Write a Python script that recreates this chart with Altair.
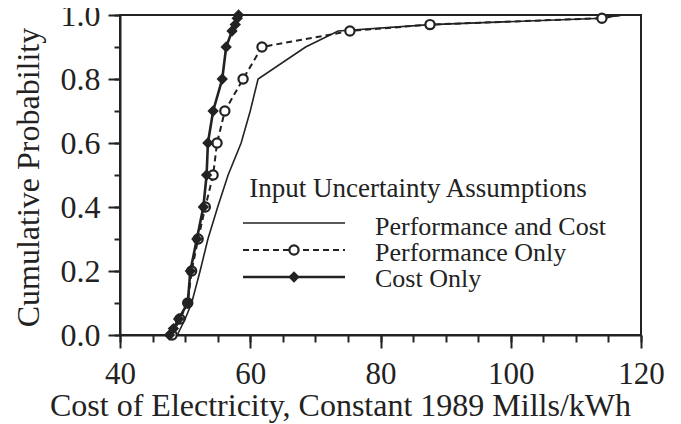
import altair as alt
import pandas as pd

# ---- data ----
prob_pc = [0.0, 0.05, 0.1, 0.2, 0.3, 0.4, 0.5, 0.6, 0.7, 0.8, 0.9, 0.95, 0.97, 0.99, 1.0]
cost_pc = [48.8, 50.0, 51.0, 52.3, 53.5, 55.0, 56.6, 58.6, 60.0, 61.2, 68.5, 73.5, 87.6, 114.0, 117.0]

prob_po = [0.0, 0.05, 0.1, 0.2, 0.3, 0.4, 0.5, 0.6, 0.7, 0.8, 0.9, 0.95, 0.97, 0.99, 1.0]
cost_po = [48.0, 49.2, 50.4, 51.0, 52.0, 53.1, 54.3, 54.9, 56.1, 58.9, 61.8, 75.3, 87.6, 114.0, 117.0]

prob_co = [0.0, 0.02, 0.05, 0.1, 0.2, 0.3, 0.4, 0.5, 0.6, 0.7, 0.8, 0.9, 0.95, 0.97, 0.99, 1.0]
cost_co = [47.6, 48.2, 49.0, 50.4, 50.8, 51.8, 52.8, 53.3, 53.5, 54.3, 55.7, 56.3, 57.2, 57.7, 58.0, 58.2]

x_major = [40, 60, 80, 100, 120]
x_minor = [40, 45, 50, 55, 60, 65, 70, 75, 80, 85, 90, 95, 100, 105, 110, 115, 120]
y_major = [0.0, 0.2, 0.4, 0.6, 0.8, 1.0]
y_minor = [0.0, 0.1, 0.2, 0.3, 0.4, 0.5, 0.6, 0.7, 0.8, 0.9, 1.0]

legend_title = "Input Uncertainty Assumptions"
legend_labels = ["Performance and Cost", "Performance Only", "Cost Only"]

x_title = "Cost of Electricity, Constant 1989 Mills/kWh"
y_title = "Cumulative Probability"

# ---- styling ----
INK = "#222222"
FONT = "Liberation Serif"

df_pc = pd.DataFrame({"cost": cost_pc, "prob": prob_pc})
df_po = pd.DataFrame({"cost": cost_po, "prob": prob_po})
df_co = pd.DataFrame({"cost": cost_co, "prob": prob_co})

xs = alt.Scale(domain=[40, 120], nice=False, zero=False)
ys = alt.Scale(domain=[0, 1], nice=False, zero=False)

x_major_axis = alt.Axis(
    orient="bottom", values=x_major, format="d", grid=False,
    tickSize=13, tickWidth=2, tickColor=INK,
    domainWidth=2, domainColor=INK,
    labelFont=FONT, labelFontSize=31, labelColor=INK, labelPadding=11,
    labelFlush=False, labelOverlap=False,
    title=x_title, titleFont=FONT, titleFontSize=32, titleFontWeight="normal",
    titleColor=INK, titleX=220, titleY=80, titleBaseline="alphabetic", titleAlign="center",
)
y_major_axis = alt.Axis(
    orient="left", values=y_major, format=".1f", grid=False,
    tickSize=12, tickWidth=2, tickColor=INK,
    domainWidth=2, domainColor=INK,
    labelFont=FONT, labelFontSize=32, labelColor=INK, labelPadding=8,
    labelFlush=False, labelOverlap=False,
    title=y_title, titleFont=FONT, titleFontSize=32, titleFontWeight="normal",
    titleColor=INK, titleX=-82, titleY=162, titleBaseline="alphabetic", titleAlign="center",
    titleAngle=270,
)
x_minor_axis = alt.Axis(orient="bottom", values=x_minor, grid=False, labels=False,
                        tickSize=7, tickWidth=2, tickColor=INK, domain=False, title=None)
y_minor_axis = alt.Axis(orient="left", values=y_minor, grid=False, labels=False,
                        tickSize=6, tickWidth=2, tickColor=INK, domain=False, title=None)

pc_line = alt.Chart(df_pc).mark_line(color=INK, strokeWidth=1.6).encode(
    x=alt.X("cost:Q", scale=xs, axis=x_minor_axis),
    y=alt.Y("prob:Q", scale=ys, axis=y_minor_axis),
    order="prob:Q",
)

po_line = alt.Chart(df_po).mark_line(color=INK, strokeWidth=2, strokeDash=[6, 4]).encode(
    x=alt.X("cost:Q", scale=xs, axis=x_major_axis),
    y=alt.Y("prob:Q", scale=ys, axis=y_major_axis),
    order="prob:Q",
)
po_pts = alt.Chart(df_po).transform_filter("datum.prob < 1").mark_point(
    shape="circle", filled=False, fill="white", fillOpacity=1, stroke=INK, strokeWidth=2.2,
    size=85, opacity=1,
).encode(
    x=alt.X("cost:Q", scale=xs, axis=None),
    y=alt.Y("prob:Q", scale=ys, axis=None),
)

co_line = alt.Chart(df_co).mark_line(color=INK, strokeWidth=2.6).encode(
    x=alt.X("cost:Q", scale=xs, axis=None),
    y=alt.Y("prob:Q", scale=ys, axis=None),
    order="prob:Q",
)
co_pts = alt.Chart(df_co).mark_point(
    shape="diamond", filled=True, color=INK, size=130, opacity=1,
).encode(
    x=alt.X("cost:Q", scale=xs, axis=None),
    y=alt.Y("prob:Q", scale=ys, axis=None),
)

# ---- manual legend (pixel positions inside the plot area) ----
one = pd.DataFrame({"k": [0]})
leg_title = alt.Chart(one).mark_text(
    text=legend_title, font=FONT, fontSize=27, color=INK, align="center", baseline="alphabetic"
).encode(x=alt.value(298), y=alt.value(182))

leg_lab = []
for lab, yb in zip(legend_labels, [220, 246, 272]):
    leg_lab.append(alt.Chart(one).mark_text(
        text=lab, font=FONT, fontSize=26, color=INK, align="left", baseline="alphabetic"
    ).encode(x=alt.value(255), y=alt.value(yb)))

leg_l1 = alt.Chart(one).mark_rule(color=INK, strokeWidth=1.6).encode(
    x=alt.value(123), x2=alt.value(225), y=alt.value(208))
leg_l2 = alt.Chart(one).mark_rule(color=INK, strokeWidth=2, strokeDash=[6, 4]).encode(
    x=alt.value(123), x2=alt.value(225), y=alt.value(235))
leg_p2 = alt.Chart(one).mark_point(
    shape="circle", filled=False, fill="white", fillOpacity=1, stroke=INK, strokeWidth=2.2,
    size=85, opacity=1).encode(x=alt.value(174), y=alt.value(235))
leg_l3 = alt.Chart(one).mark_rule(color=INK, strokeWidth=2.6).encode(
    x=alt.value(123), x2=alt.value(225), y=alt.value(262))
leg_p3 = alt.Chart(one).mark_point(
    shape="diamond", filled=True, color=INK, size=130, opacity=1).encode(
    x=alt.value(174), y=alt.value(262))

chart = alt.layer(
    pc_line, po_line, po_pts, co_line, co_pts,
    leg_title, *leg_lab, leg_l1, leg_l2, leg_p2, leg_l3, leg_p3,
).resolve_axis(x="independent", y="independent").properties(
    width=521, height=320,
    autosize=alt.AutoSizeParams(type="none"),
    padding={"left": 112, "top": 7, "right": 25, "bottom": 89},
    background="white",
).configure_view(stroke=INK, strokeWidth=2)

chart.save("out.html", embed_options={"renderer": "svg", "actions": False})
